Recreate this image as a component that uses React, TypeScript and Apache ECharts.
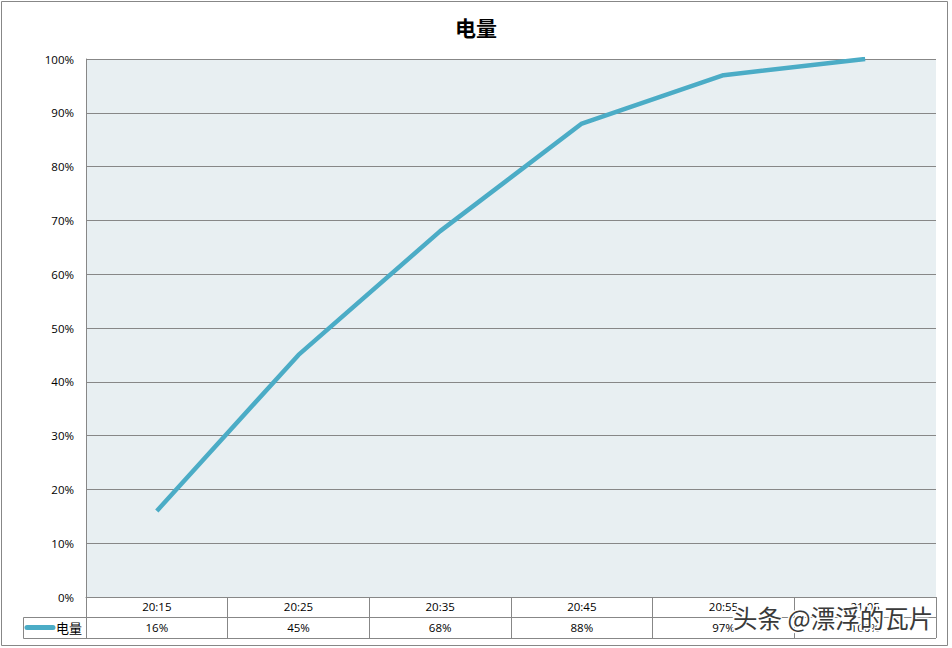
import React, { useEffect, useRef } from "react";
import * as echarts from "echarts";

const title = "电量";
const seriesName = "电量";
const categories = ["20:15", "20:25", "20:35", "20:45", "20:55", "21:05"];
const values = [16, 45, 68, 88, 97, 100];
const watermark = "头条 @漂浮的瓦片";

const FONT = "'Open Sans', 'Noto Sans CJK SC', sans-serif";
const GRAY = "#878787";
const LINE = "#4BACC6";

export default function App() {
  const ref = useRef<HTMLDivElement>(null);
  useEffect(() => {
    if (!ref.current) return;
    const chart = echarts.init(ref.current, undefined, { renderer: "svg" });
    chart.setOption({
      animation: false,
      backgroundColor: "#ffffff",
      title: {
        text: title,
        left: "center",
        top: 12,
        textStyle: { fontSize: 21, fontWeight: "bold", color: "#000", fontFamily: FONT },
      },
      grid: {
        left: 86,
        right: 16,
        top: 59,
        bottom: 51,
        show: true,
        backgroundColor: "#E8EFF2",
        borderWidth: 0,
      },
      xAxis: [
        {
          type: "category",
          data: categories,
          boundaryGap: true,
          position: "bottom",
          axisLine: { show: true, lineStyle: { color: GRAY, width: 1 } },
          axisTick: { show: true, length: 41, lineStyle: { color: GRAY, width: 1 } },
          axisLabel: { margin: 4, fontSize: 11.5, color: "#000", fontFamily: FONT },
          splitLine: { show: false },
        },
        {
          type: "category",
          data: categories,
          boundaryGap: true,
          position: "bottom",
          offset: 20,
          axisLine: { show: true, lineStyle: { color: GRAY, width: 1 } },
          axisTick: { show: false },
          axisLabel: {
            margin: 5,
            fontSize: 11.5,
            color: "#000",
            fontFamily: FONT,
            formatter: (_v: string, i: number) => values[i] + "%",
          },
          splitLine: { show: false },
        },
      ],
      yAxis: {
        type: "value",
        min: 0,
        max: 100,
        interval: 10,
        axisLine: { show: true, lineStyle: { color: GRAY, width: 1 } },
        axisTick: { show: false },
        axisLabel: { formatter: "{value}%", margin: 12, fontSize: 11.5, color: "#000", fontFamily: FONT },
        splitLine: { show: true, lineStyle: { color: GRAY, width: 1 } },
      },
      series: [
        {
          name: seriesName,
          type: "line",
          xAxisIndex: 0,
          data: values,
          symbol: "none",
          lineStyle: { color: LINE, width: 4.5 },
          itemStyle: { color: LINE },
        },
      ],
      graphic: [
        {
          type: "rect",
          shape: { x: 1.5, y: 1.5, width: 946, height: 644 },
          style: { fill: "none", stroke: GRAY, lineWidth: 1 },
          silent: true,
        },
        {
          type: "polyline",
          shape: { points: [[86, 617.5], [23.5, 617.5], [23.5, 638.5], [936, 638.5]] },
          style: { fill: "none", stroke: GRAY, lineWidth: 1 },
        },
        {
          type: "line",
          shape: { x1: 27, y1: 627.5, x2: 53, y2: 627.5 },
          style: { stroke: LINE, lineWidth: 5, lineCap: "round" },
        },
        {
          type: "text",
          x: 56,
          y: 627.5,
          style: {
            text: seriesName,
            fontSize: 13,
            fill: "#000",
            fontFamily: FONT,
            verticalAlign: "middle",
          },
        },
        {
          type: "text",
          x: 733,
          y: 617,
          z: 100,
          style: {
            text: watermark,
            fontSize: 24.5,
            fill: "#3a3a3a",
            stroke: "#ffffff",
            lineWidth: 3,
            fontFamily: "'Noto Sans CJK SC', sans-serif",
            verticalAlign: "middle",
          },
        },
      ],
    });
    return () => chart.dispose();
  }, []);
  return (
    <div
      ref={ref}
      style={{ position: "fixed", left: 0, top: 0, width: 952, height: 648 }}
    />
  );
}
